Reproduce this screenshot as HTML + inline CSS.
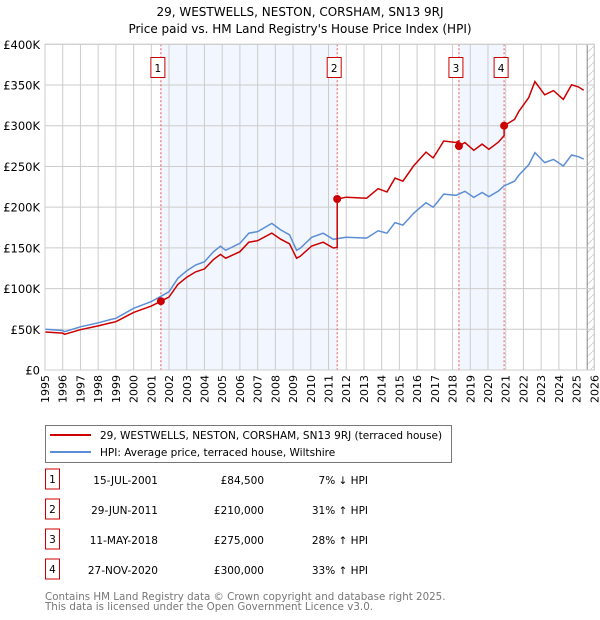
<!DOCTYPE html>
<html><head><meta charset="utf-8"><style>
body{margin:0;background:#fff;font-family:"DejaVu Sans","Liberation Sans",sans-serif;}
#wrap{position:relative;width:600px;height:620px;overflow:hidden}
</style></head><body><div id="wrap">
<svg id="chart" width="600" height="620" font-family="DejaVu Sans, Liberation Sans, sans-serif"></svg>
</div>
<script>
const hpiYears=[1995,1996,1996.1,1997,1998,1998.7,1999,2000,2001,2001.5,2002,2002.5,2003,2003.5,2004,2004.5,2004.9,2005.2,2006,2006.5,2007,2007.8,2008.3,2008.8,2009.2,2009.4,2010.05,2010.7,2011.27,2012,2013.15,2013.8,2014.3,2014.75,2015.2,2015.8,2016.5,2016.9,2017.1,2017.5,2018.2,2018.7,2019.2,2019.67,2020.05,2020.6,2020.9,2021.5,2021.75,2022.3,2022.65,2023.2,2023.7,2024.25,2024.72,2025.1,2025.4];
const hpiValues=[50000,48500,47000,53000,58000,62000,63500,75800,84000,90000,96000,112600,122000,129000,133000,145000,152000,147000,155600,168000,170000,180000,172000,166000,147000,149500,163000,168000,160500,163000,162000,171000,168000,181000,178000,192500,205500,200000,205000,216000,214500,219500,212000,218000,213000,220000,226000,232000,239500,252000,267000,254700,258600,250500,264000,262000,259000];
const saleYears=[2001.54,2011.49,2018.36,2020.91];
const salePrices=[84500,210000,275000,300000];
const saleLabels=["1","2","3","4"];
const saleDates=["15-JUL-2001","29-JUN-2011","11-MAY-2018","27-NOV-2020"];
const salePriceText=["£84,500","£210,000","£275,000","£300,000"];
const saleHpiText=["7% ↓ HPI","31% ↑ HPI","28% ↑ HPI","33% ↑ HPI"];
const yTicks=[0,50000,100000,150000,200000,250000,300000,350000,400000];
const yTickLabels=["£0","£50K","£100K","£150K","£200K","£250K","£300K","£350K","£400K"];
const xTicks=[1995,1996,1997,1998,1999,2000,2001,2002,2003,2004,2005,2006,2007,2008,2009,2010,2011,2012,2013,2014,2015,2016,2017,2018,2019,2020,2021,2022,2023,2024,2025,2026];

const NS="http://www.w3.org/2000/svg";
const svg=document.getElementById('chart');
const X0=45,X1=594.3,Y0=370,Y1=44.3;
const x=v=>X0+(v-1995)/(2026-1995)*(X1-X0);
const y=v=>Y0-v/400000*(Y0-Y1);
function mk(t,a,p){const e=document.createElementNS(NS,t);for(const k in a)e.setAttribute(k,a[k]);(p||svg).appendChild(e);return e;}
function hpiAt(t){if(t<=hpiYears[0])return hpiValues[0];for(let i=1;i<hpiYears.length;i++){if(t<=hpiYears[i]){const f=(t-hpiYears[i-1])/(hpiYears[i]-hpiYears[i-1]);return hpiValues[i-1]+f*(hpiValues[i]-hpiValues[i-1]);}}return hpiValues[hpiValues.length-1];}

for(let i=0;i<saleYears.length;i+=2){
  const r=mk('rect',{x:x(saleYears[i]),y:Y1,width:x(saleYears[i+1])-x(saleYears[i]),height:Y0-Y1,fill:'#eef3fd',opacity:0.75});
  
  
}
const defs=mk('defs',{});
const pat=mk('pattern',{id:'hatch',width:8,height:8,patternUnits:'userSpaceOnUse'},defs);
mk('path',{d:'M0,8 L8,0',stroke:'#ccc','stroke-width':0.8},pat);
const hz=mk('rect',{x:x(2025.6),y:Y1,width:X1-x(2025.6),height:Y0-Y1,fill:'url(#hatch)'});


mk('line',{x1:x(2025.6),x2:x(2025.6),y1:Y1,y2:Y0,stroke:'#888','stroke-width':1});

xTicks.forEach((t,i)=>{
  const l=mk('line',{x1:x(t),x2:x(t),y1:Y1,y2:Y0,stroke:'#ccc','stroke-width':1});
  
  
  const tx=mk('text',{x:0,y:0,transform:`translate(${x(t)+4},${Y0+5}) rotate(-90)`,'text-anchor':'end','font-size':11,fill:'#000'});
  tx.textContent=t;
  
  
});
yTicks.forEach((t,i)=>{
  const l=mk('line',{x1:X0,x2:X1,y1:y(t),y2:y(t),stroke:'#ccc','stroke-width':1});
  
  
  const tx=mk('text',{x:X0-5,y:y(t)+4.5,'text-anchor':'end','font-size':11.5,fill:'#000'});
  tx.textContent=yTickLabels[i];
  
  
});

saleYears.forEach((s,i)=>{
  const l=mk('line',{x1:x(s),x2:x(s),y1:Y1,y2:Y0,stroke:'#e55','stroke-width':1,'stroke-dasharray':'2,2'});
  
  
  const bx=mk('rect',{x:x(s)-10,y:57.5,width:14,height:20,fill:'#fff',stroke:'#c00','stroke-width':1});
  
  
  const tx=mk('text',{x:x(s)-3,y:72,'text-anchor':'middle','font-size':10.5,fill:'#000'});
  tx.textContent=saleLabels[i];
  
  
});

const hpiPts=hpiYears.map((t,i)=>x(t).toFixed(1)+','+y(hpiValues[i]).toFixed(1)).join(' ');
const hp=mk('polyline',{points:hpiPts,fill:'none',stroke:'#5b8ed6','stroke-width':1.5});



function ratioAt(t){let k=0;for(let i=0;i<saleYears.length;i++){if(t>=saleYears[i])k=i;}return salePrices[k]/hpiAt(saleYears[k]);}
let pts=[];
hpiYears.forEach((t,i)=>{
  saleYears.forEach((s,j)=>{const prev=i>0?hpiYears[i-1]:-1e9;if(s>prev&&s<=t){pts.push([s,hpiAt(s)*(j>0?salePrices[j-1]/hpiAt(saleYears[j-1]):salePrices[0]/hpiAt(saleYears[0]))]);pts.push([s,salePrices[j]]);}});
  pts.push([t,hpiValues[i]*ratioAt(t)]);
});
const rp=mk('polyline',{points:pts.map(p=>x(p[0]).toFixed(1)+','+y(p[1]).toFixed(1)).join(' '),fill:'none',stroke:'#cc0000','stroke-width':1.5});


saleYears.forEach((s,i)=>{
  const c=mk('circle',{cx:x(s),cy:y(salePrices[i]),r:4,fill:'#cc0000'});
  
  
});
mk('rect',{x:X0,y:Y1,width:X1-X0,height:Y0-Y1,fill:'none',stroke:'#ccc','stroke-width':1});

const t1=mk('text',{x:300,y:16,'text-anchor':'middle','font-size':12,fill:'#000'});t1.textContent="29, WESTWELLS, NESTON, CORSHAM, SN13 9RJ";


const t2=mk('text',{x:300,y:33,'text-anchor':'middle','font-size':12,fill:'#000'});t2.textContent="Price paid vs. HM Land Registry's House Price Index (HPI)";



const lg=mk('g',{});


mk('rect',{x:45.5,y:425.5,width:406,height:37,fill:'#fff',stroke:'#777','stroke-width':1},lg);
mk('line',{x1:50,x2:91,y1:435,y2:435,stroke:'#cc0000','stroke-width':2},lg);
mk('line',{x1:50,x2:91,y1:452,y2:452,stroke:'#5b8ed6','stroke-width':2},lg);
const l1=mk('text',{x:100,y:439,'font-size':10.5,fill:'#000'},lg);l1.textContent="29, WESTWELLS, NESTON, CORSHAM, SN13 9RJ (terraced house)";


const l2=mk('text',{x:100,y:456,'font-size':10.5,fill:'#000'},lg);l2.textContent="HPI: Average price, terraced house, Wiltshire";



saleYears.forEach((s,i)=>{
  const yy=483+i*30;
  const b=mk('rect',{x:45.5,y:yy-14,width:14,height:20,fill:'#fff',stroke:'#c00','stroke-width':1});
  
  
  const cells=[[52.5,'middle',saleLabels[i]],[158,'end',saleDates[i]],[264,'end',salePriceText[i]],[368,'end',saleHpiText[i]]];
  cells.forEach((c,j)=>{
    const tx=mk('text',{x:c[0],y:j===0?yy:yy+1,'text-anchor':c[1],'font-size':10.5,fill:'#000'});
    tx.textContent=c[2];
    
    
  });
});
const f1=mk('text',{x:45,y:600,'font-size':10.3,fill:'#777'});f1.textContent="Contains HM Land Registry data © Crown copyright and database right 2025.";


const f2=mk('text',{x:45,y:610,'font-size':10.3,fill:'#777'});f2.textContent="This data is licensed under the Open Government Licence v3.0.";


</script></body></html>
